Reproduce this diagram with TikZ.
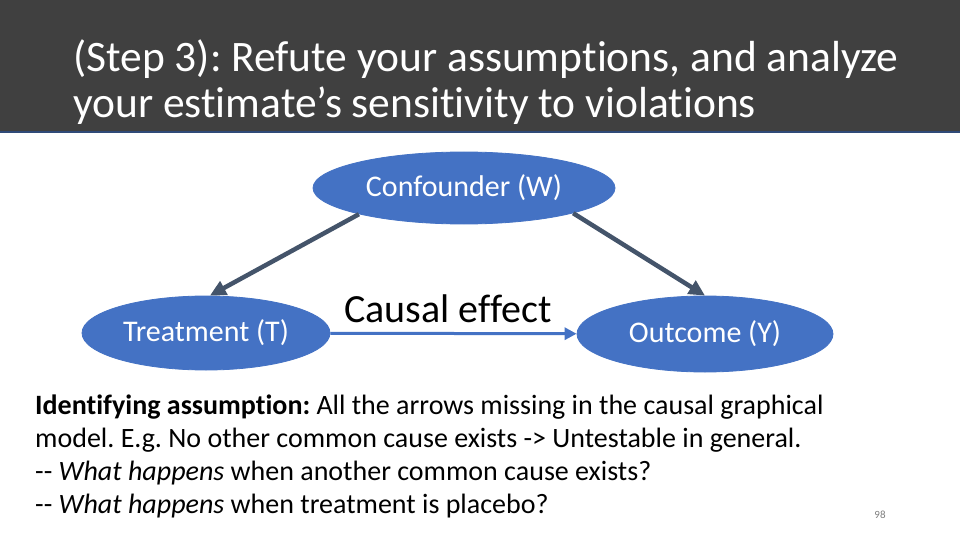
\documentclass[tikz,border=0pt]{standalone}
\usepackage{fontspec}
\setmainfont{Carlito}[Ligatures={NoCommon}]
\usetikzlibrary{shapes.geometric,arrows.meta}
\definecolor{hdrgray}{HTML}{404040}
\definecolor{hdrline}{HTML}{2F4A78}
\definecolor{nodeblue}{HTML}{4472C4}
\definecolor{edgeslate}{HTML}{44546A}
\frenchspacing
\tikzset{>=Latex}
\tikzstyle{var}=[ellipse, fill=nodeblue, draw=nodeblue, line width=0.8pt, text=white, font=\fontsize{30}{34}\selectfont, inner sep=0pt]
\tikzstyle{conf}=[-{Triangle[length=16pt,width=15pt]}, edgeslate, line width=4.5pt]
\tikzstyle{eff}=[-{Triangle[length=12pt,width=12pt]}, nodeblue, line width=3pt]

\begin{document}
\begin{tikzpicture}[x=1pt,y=-1pt]
    \useasboundingbox (0,0) rectangle (960,540);
    \fill[white] (0,0) rectangle (960,540);
    % title bar
    \draw[fill=hdrgray, draw=hdrline, line width=1.5pt] (-1,-1) rectangle (961,132);
    \node[anchor=base west, text=white, align=left, inner sep=0pt, font=\fontsize{43.5}{46}\selectfont] (title) at (73,118) {(Step 3): Refute your assumptions, and analyze\\your estimate’s sensitivity to violations};

    % causal graph
    \node[var, minimum width=302pt, minimum height=72pt] (W) at (464,188) {Confounder (W)};
    \node[var, minimum width=248pt, minimum height=74pt] (T) at (206,333) {Treatment (T)};
    \node[var, minimum width=256pt, minimum height=76pt] (Y) at (705,334) {Outcome (Y)};
    \draw[conf] (W.194) -- (T.84);
    \draw[conf] (W.347) -- (Y.north);
    \draw[eff] (T) -- (Y);
    \node[anchor=base, inner sep=0pt, font=\fontsize{40}{44}\selectfont] (effect) at (448,322) {Causal effect};

    % text
    \node[anchor=base west, align=left, inner sep=0pt, font=\fontsize{28}{33}\selectfont] (note) at (35,513) {\textbf{Identifying assumption:} All the arrows missing in the causal graphical\\model. E.g. No other common cause exists -> Untestable in general.\\-{}- \textit{What happens} when another common cause exists?\\-{}- \textit{What happens} when treatment is placebo?};
    \node[anchor=base, text=gray, inner sep=0pt, font=\fontsize{11}{12}\selectfont] (page) at (880,518) {98};
\end{tikzpicture}
\end{document}
